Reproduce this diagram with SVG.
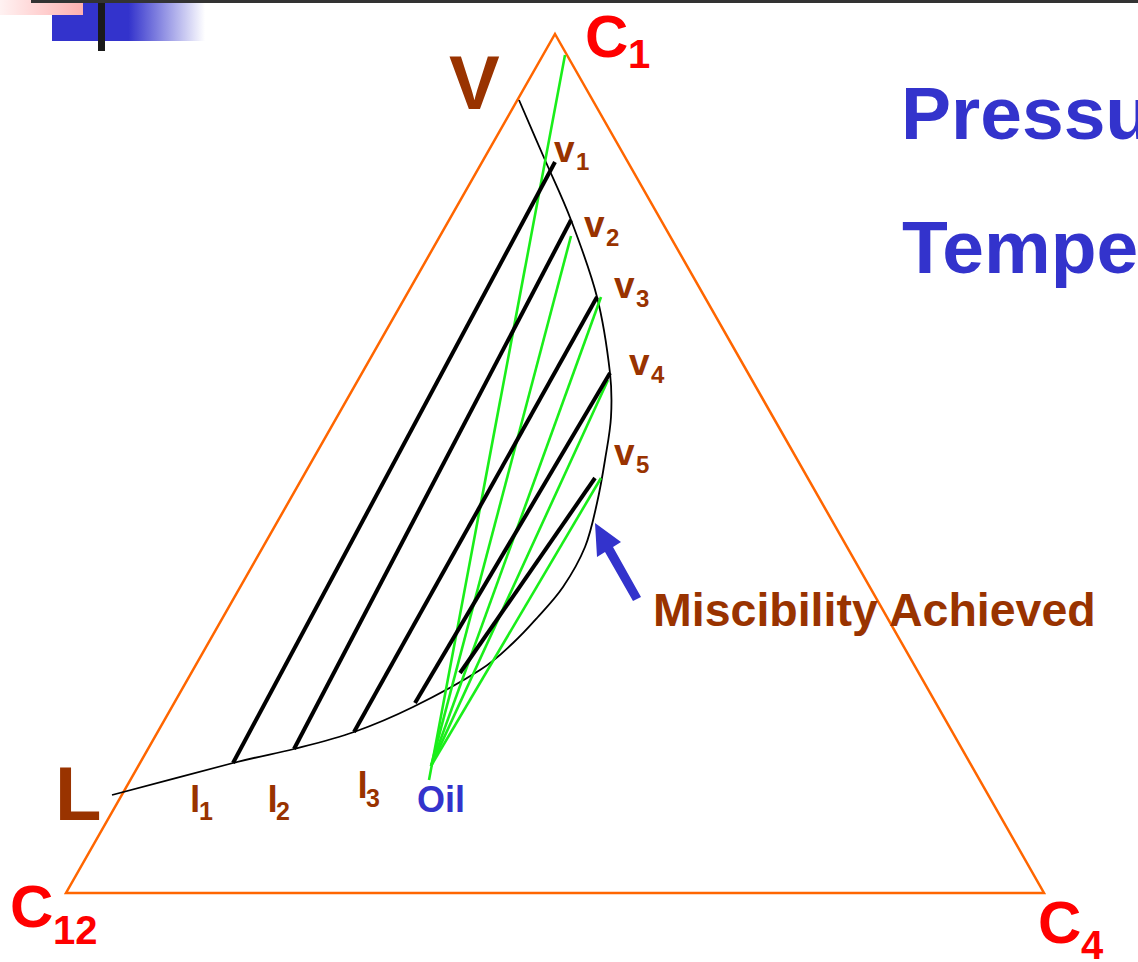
<svg xmlns="http://www.w3.org/2000/svg" width="1138" height="962" viewBox="0 0 1138 962">
<defs>
<linearGradient id="pinkG" x1="0" y1="0" x2="1" y2="0">
<stop offset="0" stop-color="#fff2f2"/>
<stop offset="1" stop-color="#ffb0b0"/>
</linearGradient>
<linearGradient id="blueG" x1="52" y1="0" x2="205" y2="0" gradientUnits="userSpaceOnUse">
<stop offset="0" stop-color="#3333cc"/>
<stop offset="0.5" stop-color="#3333cc"/>
<stop offset="1" stop-color="#3333cc" stop-opacity="0"/>
</linearGradient>
<style>
.tri{fill:none;stroke:#ff6600;stroke-width:2.5;stroke-linejoin:miter}
.env{fill:none;stroke:#000;stroke-width:1.8}
.tie{stroke:#000;stroke-width:4;stroke-linecap:butt}
.grn{stroke:#1aee1a;stroke-width:2.6;stroke-linecap:butt}
.t{font-family:"Liberation Sans",Arial,sans-serif;font-weight:bold}
.red{fill:#ff0000}
.brn{fill:#993300}
.blu{fill:#3333cc}
</style>
</defs>
<rect width="1138" height="962" fill="#ffffff"/>
<g id="decoration">
<rect x="52" y="3" width="153" height="38" fill="url(#blueG)"/>
<rect x="0" y="0" width="83" height="15" fill="url(#pinkG)"/>
<rect x="31" y="0" width="1107" height="3" fill="#333333"/>
<rect x="98" y="3" width="7" height="48" fill="#1a1a1a"/>
</g>
<g id="triangle">
<polygon class="tri" points="555,34 1044,893 66,893"/>
</g>
<g id="connectors">
<path id="envelope" class="env" d="M112,795 C132.2,789.7 202.7,770.7 233,763 C263.3,755.3 273.8,754.2 294,749 C314.2,743.8 334.2,739 354,732 C373.8,725 392,717.3 413,707 C434,696.7 463.3,680.7 480,670 C496.7,659.3 503.5,651.7 513,643 C522.5,634.3 528.7,627.3 537,618 C545.3,608.7 555,598.8 563,587 C571,575.2 579.3,561 585,547 C590.7,533 593.7,517.5 597,503 C600.3,488.5 602.7,474.3 605,460 C607.3,445.7 610.2,431.5 611,417 C611.8,402.5 612.3,393 610,373 C607.7,353 603.5,322.5 597,297 C590.5,271.5 579.7,242.8 571,220 C562.3,197.2 553.7,180 545,160 C536.3,140 523.3,110 519,100"/>
<g id="green-lines">
<line class="grn" x1="565" y1="55" x2="429" y2="780"/>
<line class="grn" x1="571" y1="236" x2="431" y2="766"/>
<line class="grn" x1="601" y1="297" x2="431" y2="766"/>
<line class="grn" x1="608" y1="380" x2="431" y2="766"/>
<line class="grn" x1="601" y1="478" x2="431" y2="766"/>
</g>
<g id="tie-lines">
<line class="tie" x1="233" y1="763" x2="555" y2="162"/>
<line class="tie" x1="294" y1="749" x2="571" y2="220"/>
<line class="tie" x1="354" y1="732" x2="597" y2="297"/>
<line class="tie" x1="415" y1="703" x2="610" y2="373"/>
<line class="tie" x1="460" y1="673" x2="595" y2="478"/>
</g>
<polygon id="arrow" class="blu" points="595,523 621,542 613,547 641,597 633,601 605,552 597,557"/>
</g>
<g id="label-C1"><text class="t red" x="585" y="57" font-size="60">C</text><text class="t red" x="628" y="68" font-size="40">1</text></g>
<g id="label-C12"><text class="t red" x="10" y="927" font-size="60">C</text><text class="t red" x="53" y="944" font-size="40">12</text></g>
<g id="label-C4"><text class="t red" x="1038" y="943" font-size="60">C</text><text class="t red" x="1081" y="959" font-size="40">4</text></g>
<g id="label-V"><text class="t brn" x="449" y="109" font-size="76">V</text></g>
<g id="label-L"><text class="t brn" x="55" y="820" font-size="76">L</text></g>
<g id="label-v1"><text class="t brn" x="554" y="162" font-size="37">v</text><text class="t brn" x="576" y="170" font-size="24">1</text></g>
<g id="label-v2"><text class="t brn" x="584" y="237" font-size="37">v</text><text class="t brn" x="606" y="246" font-size="24">2</text></g>
<g id="label-v3"><text class="t brn" x="614" y="298" font-size="37">v</text><text class="t brn" x="636" y="307" font-size="24">3</text></g>
<g id="label-v4"><text class="t brn" x="629" y="375" font-size="37">v</text><text class="t brn" x="651" y="383" font-size="24">4</text></g>
<g id="label-v5"><text class="t brn" x="614" y="465" font-size="37">v</text><text class="t brn" x="636" y="473" font-size="24">5</text></g>
<g id="label-l1"><text class="t brn" x="190" y="812" font-size="37">l</text><text class="t brn" x="199" y="820" font-size="25">1</text></g>
<g id="label-l2"><text class="t brn" x="267.5" y="812" font-size="37">l</text><text class="t brn" x="276" y="820" font-size="25">2</text></g>
<g id="label-l3"><text class="t brn" x="357.5" y="798" font-size="37">l</text><text class="t brn" x="366" y="807" font-size="25">3</text></g>
<g id="label-oil"><text class="t blu" x="417" y="812" font-size="36">Oil</text></g>
<g id="label-miscibility"><text class="t brn" x="653" y="626" font-size="46.5">Miscibility Achieved</text></g>
<g id="title"><text class="t blu" x="901" y="139" font-size="75">Pressu</text><text class="t blu" x="902" y="273" font-size="75">Tempe</text></g>
</svg>
